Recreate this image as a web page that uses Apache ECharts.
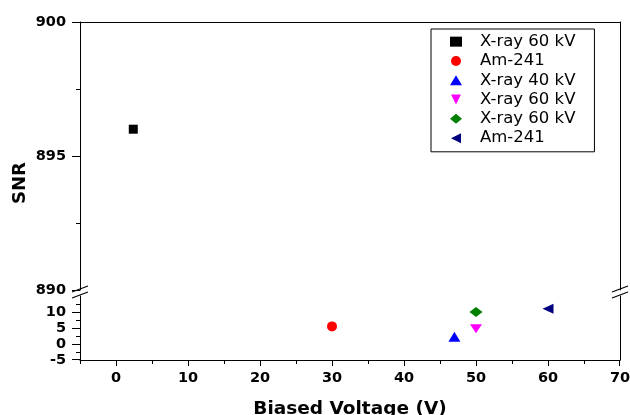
<!DOCTYPE html>
<html><head><meta charset="utf-8">
<script src="https://cdn.jsdelivr.net/npm/echarts@6/dist/echarts.min.js"></script>
<style>html,body{margin:0;padding:0;background:#fff}#c{width:630px;height:415px}</style>
</head><body><div id="c"></div>
<script>
// ---- data ----
const seriesNames = ['X-ray 60 kV', 'Am-241', 'X-ray 40 kV', 'X-ray 60 kV', 'X-ray 60 kV', 'Am-241'];
const voltages = [2.4, 30, 47, 50, 50, 60];
const snrValues = [896, 5.5, 2.3, 4.8, 10, 11];
const xTickLabels = [0, 10, 20, 30, 40, 50, 60, 70];
const xMinorTicks = [-5, 5, 15, 25, 35, 45, 55, 65];
const yUpperTickLabels = [890, 895, 900];
const yUpperMinorTicks = [892.5, 897.5];
const yLowerTickLabels = [-5, 0, 5, 10];
const yLowerMinorTicks = [-2.5, 2.5, 7.5, 12.5];
const xRange = [-5, 70];
const yUpperRange = [890, 900];
const yLowerRange = [-5, 15];

// ---- styles ----
const symbols = ['rect', 'circle', 'triangle', 'path://M0,0L2,0L1,2Z', 'diamond', 'path://M2,0L2,2L0,1Z'];
const symbolSizes = [9, 10, [12, 10], [12, 9], [13, 10], [11, 10]];
const colors = ['#000000', '#ff0000', '#0000ff', '#ff00ff', '#008000', '#000080'];

const FONT = '"DejaVu Sans", sans-serif';
const BLACK = '#000';
const line = { color: BLACK, width: 1 };
const LABEL_STEP = 5;
const LABEL_FONT_SIZE = 14.5;
const Y_LABEL_MARGIN = 14;
const X_MAJOR_LEN = 6, Y_MAJOR_LEN = 8;

const G0 = { left: 80, top: 22, width: 540, height: 268 };
const G1 = { left: 80, top: 296, width: 540, height: 64 };

function borderAxis(grid, pos, range) {
  return {
    gridIndex: grid, type: 'value', position: pos, min: range[0], max: range[1],
    axisLine: { show: true, onZero: false, lineStyle: Object.assign({}, line) },
    axisTick: { show: false }, axisLabel: { show: false }, splitLine: { show: false }
  };
}
function tickAxis(grid, pos, ticks, range, len) {
  return {
    gridIndex: grid, type: 'value', position: pos, min: range[0], max: range[1],
    axisLine: { show: false, onZero: false },
    axisTick: { show: true, inside: false, length: len, customValues: ticks.slice(), lineStyle: Object.assign({}, line) },
    axisLabel: { show: false }, splitLine: { show: false }
  };
}
function labelAxis(grid, pos, labels, range, margin, showLabels) {
  return {
    gridIndex: grid, type: 'value', position: pos, min: range[0], max: range[1], interval: LABEL_STEP,
    axisLine: { show: true, onZero: false, lineStyle: Object.assign({}, line) },
    axisTick: { show: false },
    axisLabel: {
      show: showLabels, margin: margin, hideOverlap: false, showMinLabel: true, showMaxLabel: true,
      formatter: function (v) { return labels.indexOf(Math.round(v * 1000) / 1000) >= 0 ? String(Math.round(v)) : ''; },
      fontFamily: FONT, fontWeight: 'bold', fontSize: LABEL_FONT_SIZE, color: BLACK
    },
    splitLine: { show: false }
  };
}

const chart = echarts.init(document.getElementById('c'), null, { renderer: 'canvas' });

const series = voltages.map((v, i) => {
  const upper = snrValues[i] >= yUpperRange[0];
  return {
    name: seriesNames[i] + '#' + i,
    type: 'scatter',
    xAxisIndex: upper ? 0 : 1,
    yAxisIndex: upper ? 0 : 3,
    data: [[v, snrValues[i]]],
    symbol: symbols[i],
    symbolSize: symbolSizes[i],
    symbolKeepAspect: false,
    itemStyle: { color: colors[i], opacity: 1 },
    z: 5
  };
});

const breakMarks = [];
[G0.left, G0.left + G0.width].forEach(function (ax) {
  [292, 298].forEach(function (y) {
    breakMarks.push({
      type: 'line',
      shape: { x1: ax - 8, y1: y, x2: ax + 8, y2: y - 6 },
      style: { stroke: BLACK, lineWidth: 1.2 }
    });
  });
});

const xMain = labelAxis(1, 'bottom', xTickLabels, xRange, 11, true);
Object.assign(xMain, {
  name: 'Biased Voltage (V)', nameLocation: 'middle', nameGap: 40,
  nameTextStyle: { fontFamily: FONT, fontWeight: 'bold', fontSize: 18.5, color: BLACK }
});

chart.setOption({
  animation: false,
  backgroundColor: '#fff',
  grid: [
    Object.assign({ containLabel: false, outerBoundsMode: 'none' }, G0),
    Object.assign({ containLabel: false, outerBoundsMode: 'none' }, G1)
  ],
  xAxis: [
    borderAxis(0, 'top', xRange),
    xMain,
    tickAxis(1, 'bottom', xMinorTicks, xRange, 4)
  ],
  yAxis: [
    labelAxis(0, 'left', yUpperTickLabels, yUpperRange, Y_LABEL_MARGIN, true),
    borderAxis(0, 'right', yUpperRange),
    tickAxis(0, 'left', yUpperMinorTicks, yUpperRange, 4),
    labelAxis(1, 'left', yLowerTickLabels, yLowerRange, Y_LABEL_MARGIN, false),
    borderAxis(1, 'right', yLowerRange),
    tickAxis(1, 'left', yLowerMinorTicks, yLowerRange, 4)
  ],
  legend: {
    orient: 'vertical', left: 431, top: 29,
    padding: [3, 19, 4, 19],
    itemGap: 0, itemWidth: 12, itemHeight: 10,
    symbolKeepAspect: true,
    borderColor: BLACK, borderWidth: 1, backgroundColor: '#fff',
    selectedMode: false,
    formatter: function (n) { return n.split('#')[0]; },
    textStyle: { fontFamily: FONT, fontSize: 16.5, color: BLACK, lineHeight: 19.3, padding: [0, 0, 0, 13] },
    data: series.map(function (s) { return s.name; })
  },
  series: series
});

// major ticks (as 1px rects) and lower-panel tick labels, placed through the axes' own scales
const extra = [];
const xAxisLineY = G1.top + G1.height;
xTickLabels.forEach(function (v) {
  const px = Math.floor(chart.convertToPixel({ xAxisIndex: 1 }, v));
  extra.push({ type: 'rect', z: 100, shape: { x: Math.min(px, G1.left + G1.width - 1), y: xAxisLineY, width: 1, height: X_MAJOR_LEN }, style: { fill: BLACK } });
});
yUpperTickLabels.forEach(function (v) {
  const py = Math.floor(chart.convertToPixel({ yAxisIndex: 0 }, v));
  extra.push({ type: 'rect', z: 100, shape: { x: G0.left - Y_MAJOR_LEN, y: py, width: Y_MAJOR_LEN, height: 1 }, style: { fill: BLACK } });
});
yLowerTickLabels.forEach(function (v) {
  const pyRaw = chart.convertToPixel({ yAxisIndex: 3 }, v);
  const py = Math.min(Math.floor(pyRaw), xAxisLineY - 1);
  extra.push({ type: 'rect', z: 100, shape: { x: G1.left - Y_MAJOR_LEN, y: py, width: Y_MAJOR_LEN, height: 1 }, style: { fill: BLACK } });
  extra.push({ type: 'text', z: 100, x: G1.left - Y_LABEL_MARGIN, y: pyRaw,
    style: { text: String(v), fontFamily: FONT, fontWeight: 'bold', fontSize: LABEL_FONT_SIZE, fill: BLACK,
             align: 'right', verticalAlign: 'middle', textAlign: 'right', textVerticalAlign: 'middle' } });
});

chart.setOption({
  graphic: [
    {
      type: 'text', x: 20, y: 183, rotation: Math.PI / 2,
      style: { text: 'SNR', fontFamily: FONT, fontWeight: 'bold', fontSize: 18, fill: BLACK,
               align: 'center', verticalAlign: 'middle', textAlign: 'center', textVerticalAlign: 'middle' }
    }
  ].concat(breakMarks, extra)
});
</script></body></html>
